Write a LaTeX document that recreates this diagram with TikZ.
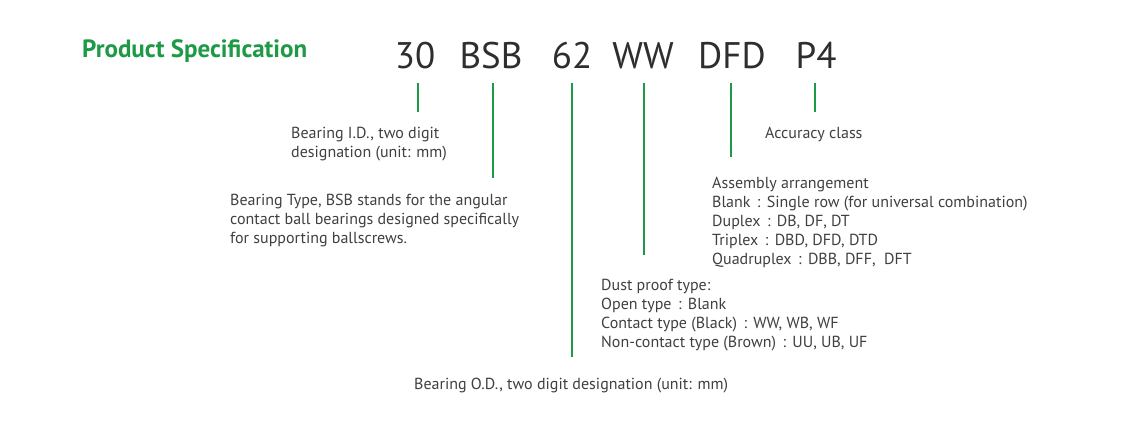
\documentclass[tikz,border=0pt]{standalone}
\usepackage{fontspec}
\setmainfont{PT Sans}
\definecolor{specgreen}{HTML}{1E9A46}
\definecolor{txtgray}{HTML}{404040}
\definecolor{codegray}{HTML}{2E2E2E}
\newcommand\fcolon{\hspace{0.4em}:\hspace{0.4em}}
\begin{document}
\begin{tikzpicture}[x=1pt,y=-1pt,
  code/.style={anchor=base,inner sep=0pt,text=codegray,font=\fontsize{37}{40}\selectfont},
  desc/.style={anchor=north west,inner sep=0pt,text=txtgray,align=left,font=\fontsize{16}{19}\selectfont},
  gline/.style={draw=specgreen,line width=2.2pt}]
\useasboundingbox[fill=white] (0,0) rectangle (1134,426);
\node[anchor=base west,inner sep=0pt,text=specgreen,font=\fontsize{25}{28}\selectfont\bfseries] (title) at (82,57) {Product Specification};
\node[code] (c30) at (415,68) {30};
\node[code] (cbsb) at (491,68) {BSB};
\node[code] (c62) at (572,68) {62};
\node[code] (cww) at (643,68) {WW};
\node[code] (cdfd) at (732,68) {DFD};
\node[code] (cp4) at (816,68) {P4};
\coordinate (s30) at (418,83); \coordinate (e30) at (418,112);
\coordinate (sbsb) at (493,83); \coordinate (ebsb) at (493,178);
\coordinate (s62) at (572,83); \coordinate (e62) at (572,357);
\coordinate (sww) at (644,83); \coordinate (eww) at (644,255);
\coordinate (sdfd) at (731,83); \coordinate (edfd) at (731,157);
\coordinate (sp4) at (815,83); \coordinate (ep4) at (815,112);
\draw[gline] (s30) -- (e30);
\draw[gline] (sbsb) -- (ebsb);
\draw[gline] (s62) -- (e62);
\draw[gline] (sww) -- (eww);
\draw[gline] (sdfd) -- (edfd);
\draw[gline] (sp4) -- (ep4);
\node[desc] (did) at (291,127) {Bearing I.D., two digit\\designation (unit: mm)};
\node[desc] (dtype) at (230,194) {Bearing Type, BSB stands for the angular\\contact ball bearings designed specifically\\for supporting ballscrews.};
\node[desc] (dacc) at (765,127) {Accuracy class};
\node[desc] (dasm) at (712,177) {Assembly arrangement\\Blank\fcolon Single row (for universal combination)\\Duplex\fcolon DB, DF, DT\\Triplex\fcolon DBD, DFD, DTD\\Quadruplex\fcolon DBB, DFF,\ \ DFT};
\node[desc] (ddust) at (601,279) {Dust proof type:\\Open type\fcolon Blank\\Contact type (Black)\fcolon WW, WB, WF\\Non-contact type (Brown)\fcolon UU, UB, UF};
\node[desc] (dod) at (414,378) {Bearing O.D., two digit designation (unit: mm)};
\end{tikzpicture}
\end{document}
